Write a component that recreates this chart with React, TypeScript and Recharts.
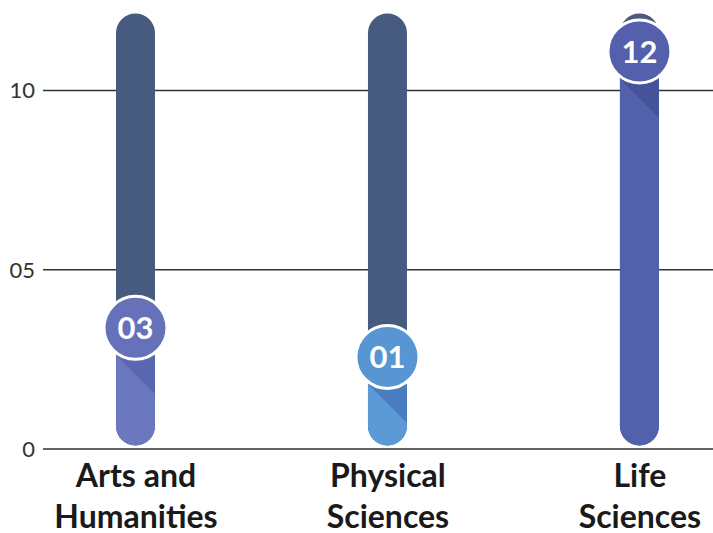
import { ComposedChart, Bar, XAxis, YAxis, CartesianGrid } from 'recharts';

const categories = ['Arts and Humanities', 'Physical Sciences', 'Life Sciences'];
const labelLines = [['Arts and', 'Humanities'], ['Physical', 'Sciences'], ['Life', 'Sciences']];
const values = [3, 1, 12];
// where each badge sits on its track
const markerLevels = [3.38, 2.57, 11.09];
const trackMax = 12.15;
const trackMin = 0.1;
const yTicks = [0, 5, 10];

const barColors = ['#6b78bf', '#5b9ad5', '#5361ab'];
const circleColors = ['#6671b9', '#5896d3', '#5460ab'];
const shadowColors = ['#5a66b0', '#4a7cc0', '#44539a'];
const trackColor = '#475a80';

const data = categories.map((name, i) => ({
  x: i,
  name,
  value: values[i],
  track: [trackMin, trackMax],
  level: [trackMin, markerLevels[i]],
}));

const R = 31.5;

const FillShape = (props: any) => {
  const { x, y, width, height, index } = props;
  const cx = x + width / 2;
  const cy = y;
  const off = (R + 1.5) * Math.SQRT2;
  const x1 = x + width;
  const id = `clip-${index}`;
  const pts = [
    [x, cy],
    [x1, cy],
    [x1, cy + width / 2 + off],
    [x, cy - width / 2 + off],
  ]
    .map((p) => p.join(','))
    .join(' ');
  return (
    <g>
      <defs>
        <clipPath id={id}>
          <rect x={x} y={y} width={width} height={height} rx={width / 2} />
        </clipPath>
      </defs>
      <rect x={x} y={y} width={width} height={height} rx={width / 2} fill={barColors[index]} />
      <polygon points={pts} fill={shadowColors[index]} clipPath={`url(#${id})`} />
      <circle cx={cx} cy={cy} r={R} fill={circleColors[index]} stroke="#ffffff" strokeWidth={3} />
      <text
        x={cx}
        y={cy}
        dy={11}
        textAnchor="middle"
        fill="#ffffff"
        fontSize={31}
        fontWeight={700}
        fontFamily="Lato"
      >
        {String(values[index]).padStart(2, '0')}
      </text>
    </g>
  );
};

const CategoryTick = (props: any) => {
  const { x, y, payload } = props;
  const lines = labelLines[payload.value] || [];
  return (
    <text x={x} y={y} textAnchor="middle" fill="#1a1a1a" fontSize={32} fontWeight={700} fontFamily="Lato">
      {lines.map((l, i) => (
        <tspan key={i} x={x} y={y + i * 41}>
          {l}
        </tspan>
      ))}
    </text>
  );
};

export default function App() {
  const domain: [number, number] = [-0.369, 2.29];
  return (
    <div style={{ position: 'absolute', left: 0, top: 0, fontFamily: 'Lato' }}>
      <ComposedChart width={713} height={533} data={data} margin={{ top: 1, right: 0, left: 0, bottom: 0 }}>
        <CartesianGrid vertical={false} horizontalValues={yTicks} stroke="#333333" strokeWidth={1.5} />
        <XAxis
          xAxisId="main"
          type="number"
          dataKey="x"
          domain={domain}
          allowDataOverflow
          ticks={[0, 1, 2]}
          height={84}
          axisLine={false}
          tickLine={false}
          tick={<CategoryTick />}
        />
        <XAxis xAxisId="fg" type="number" dataKey="x" domain={domain} allowDataOverflow hide />
        <YAxis
          type="number"
          domain={[0, 12.5]}
          ticks={yTicks}
          width={43}
          axisLine={false}
          tickLine={false}
          tick={{ fill: '#333333', fontSize: 22, fontFamily: 'Lato' }}
          tickFormatter={(v: number) => (v === 0 ? '0' : String(v).padStart(2, '0'))}
        />
        <Bar xAxisId="main" dataKey="track" fill={trackColor} barSize={39} radius={19.5} isAnimationActive={false} />
        <Bar xAxisId="fg" dataKey="level" barSize={39} shape={<FillShape />} isAnimationActive={false} />
      </ComposedChart>
    </div>
  );
}
